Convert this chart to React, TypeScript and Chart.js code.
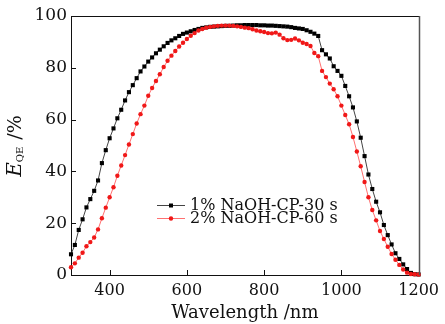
import React, { useEffect, useRef } from 'react';
import { Chart, registerables } from 'chart.js';

Chart.register(...registerables);

const wavelengths = [
  300, 310, 320, 330, 340, 350, 360, 370, 380, 390,
  400, 410, 420, 430, 440, 450, 460, 470, 480, 490,
  500, 510, 520, 530, 540, 550, 560, 570, 580, 590,
  600, 610, 620, 630, 640, 650, 660, 670, 680, 690,
  700, 710, 720, 730, 740, 750, 760, 770, 780, 790,
  800, 810, 820, 830, 840, 850, 860, 870, 880, 890,
  900, 910, 920, 930, 940, 950, 960, 970, 980, 990,
  1000, 1010, 1020, 1030, 1040, 1050, 1060, 1070, 1080, 1090,
  1100, 1110, 1120, 1130, 1140, 1150, 1160, 1170, 1180, 1190,
  1200,
];

const naoh30s = [
  8.0, 11.6, 17.4, 21.5, 26.1, 29.3, 32.5, 36.5, 43.2, 48.2,
  52.8, 56.6, 60.5, 63.8, 67.4, 70.6, 73.3, 76.0, 78.6, 80.5,
  82.4, 84.0, 85.6, 87.0, 88.3, 89.6, 90.6, 91.4, 92.3, 93.1,
  93.6, 94.1, 94.6, 95.0, 95.4, 95.6, 95.8, 95.9, 96.0, 96.1,
  96.2, 96.2, 96.3, 96.4, 96.4, 96.5, 96.5, 96.5, 96.5, 96.4,
  96.4, 96.3, 96.3, 96.2, 96.1, 96.0, 95.9, 95.7, 95.4, 95.2,
  95.0, 94.5, 93.9, 93.2, 92.3, 86.8, 85.2, 83.6, 80.6, 78.8,
  76.9, 73.0, 69.0, 64.7, 59.3, 53.0, 45.9, 38.8, 33.2, 28.3,
  24.2, 19.3, 15.4, 11.8, 8.4, 6.2, 4.1, 2.3, 0.8, 0.3,
  0.2,
];

const naoh60s = [
  3.0, 4.5, 6.7, 8.6, 11.1, 12.7, 14.5, 17.6, 21.9, 26.0,
  30.0, 33.9, 38.3, 42.3, 46.3, 50.4, 54.4, 58.5, 62.1, 65.4,
  69.2, 72.2, 74.9, 77.5, 80.3, 82.7, 84.7, 86.5, 88.2, 89.7,
  91.1, 92.4, 93.4, 94.4, 95.0, 95.5, 95.8, 96.0, 96.2, 96.3,
  96.3, 96.3, 96.2, 96.0, 95.8, 95.5, 95.3, 94.9, 94.4, 94.1,
  93.8, 93.4, 93.3, 93.6, 92.8, 91.4, 90.7, 90.8, 91.3, 90.6,
  89.7, 89.2, 88.4, 85.7, 84.5, 78.8, 76.4, 73.9, 71.7, 69.0,
  65.4, 61.8, 58.2, 53.3, 47.7, 42.0, 35.9, 30.0, 25.1, 21.1,
  17.0, 13.9, 10.9, 8.1, 5.9, 3.9, 2.1, 0.9, 0.4, 0.3,
  0.2,
];

const seriesLabels = ['1% NaOH-CP-30 s', '2% NaOH-CP-60 s'];
const xTickValues = [400, 600, 800, 1000, 1200];
const yTickValues = [0, 20, 40, 60, 80, 100];

const FONT = '"DejaVu Serif", serif';

const decorPlugin = {
  id: 'decor',
  afterDatasetsDraw(chart: any) {
    const { ctx, chartArea, scales } = chart;
    const { left, right, top, bottom } = chartArea;
    const x = scales.x;
    const y = scales.y;
    ctx.save();
    // frame top & right
    ctx.strokeStyle = '#111';
    ctx.lineWidth = 1;
    ctx.beginPath();
    ctx.moveTo(left, Math.round(top) + 0.5);
    ctx.lineTo(right + 1, Math.round(top) + 0.5);
    ctx.stroke();
    ctx.strokeStyle = '#555';
    ctx.lineWidth = 1.5;
    ctx.beginPath();
    ctx.moveTo(Math.round(right) + 0.5, top);
    ctx.lineTo(Math.round(right) + 0.5, bottom);
    ctx.stroke();
    // inward ticks
    ctx.strokeStyle = '#111';
    ctx.lineWidth = 1;
    ctx.beginPath();
    for (const v of xTickValues) {
      if (v >= 1200) continue;
      const px = Math.round(x.getPixelForValue(v)) + 0.5;
      ctx.moveTo(px, bottom);
      ctx.lineTo(px, bottom - 5);
    }
    for (const v of yTickValues) {
      if (v <= 0 || v >= 100) continue;
      const py = Math.round(y.getPixelForValue(v)) + 0.5;
      ctx.moveTo(left, py);
      ctx.lineTo(left + 5, py);
    }
    ctx.stroke();

    // legend
    const rows = [
      { ds: chart.data.datasets[1], y: 205 },
      { ds: chart.data.datasets[0], y: 218 },
    ];
    ctx.font = `16px ${FONT}`;
    ctx.textBaseline = 'middle';
    ctx.textAlign = 'left';
    for (const r of rows) {
      const ds = r.ds;
      ctx.strokeStyle = ds.borderColor;
      ctx.lineWidth = 1;
      ctx.beginPath();
      ctx.moveTo(157, r.y + 0.5);
      ctx.lineTo(185, r.y + 0.5);
      ctx.stroke();
      ctx.fillStyle = ds.pointBackgroundColor;
      if (ds.pointStyle === 'rect') {
        ctx.fillRect(169, r.y - 1.5, 4, 4);
      } else {
        ctx.beginPath();
        ctx.arc(171, r.y + 0.5, 2.2, 0, Math.PI * 2);
        ctx.fill();
      }
      ctx.fillStyle = '#111';
      ctx.fillText(ds.label, 190, r.y + 1);
    }

    // y-axis title: E_QE /%
    ctx.save();
    ctx.translate(21, 146);
    ctx.rotate(-Math.PI / 2);
    ctx.textBaseline = 'alphabetic';
    ctx.fillStyle = '#111';
    const fE = `italic 20px ${FONT}`;
    const fS = `10px ${FONT}`;
    const fR = `19px ${FONT}`;
    ctx.font = fE;
    const wE = ctx.measureText('E').width;
    ctx.font = fS;
    const wS = ctx.measureText('QE').width;
    ctx.font = fR;
    const wR = ctx.measureText(' /%').width;
    const total = wE + wS + 1 + wR;
    let cx = -total / 2;
    ctx.font = fE;
    ctx.fillText('E', cx, 0);
    cx += wE;
    ctx.font = fS;
    ctx.fillText('QE', cx, 1.5);
    cx += wS + 1;
    ctx.font = fR;
    ctx.fillText(' /%', cx, 0);
    ctx.restore();

    ctx.restore();
  },
};

export default function App() {
  const canvasRef = useRef<HTMLCanvasElement | null>(null);

  useEffect(() => {
    const canvas = canvasRef.current;
    if (!canvas) return;
    const chart = new Chart(canvas, {
      type: 'line',
      data: {
        datasets: [
          {
            label: seriesLabels[1],
            data: wavelengths.map((w, i) => ({ x: w, y: naoh60s[i] })),
            borderColor: '#ff7070',
            borderWidth: 1,
            pointStyle: 'circle',
            pointRadius: 2.2,
            pointBorderWidth: 0,
            pointBackgroundColor: '#f01818',
            order: 0,
            clip: false,
          },
          {
            label: seriesLabels[0],
            data: wavelengths.map((w, i) => ({ x: w, y: naoh30s[i] })),
            borderColor: '#444',
            borderWidth: 1,
            pointStyle: 'rect',
            pointRadius: 2.9,
            pointBorderWidth: 0,
            pointBackgroundColor: '#000',
            order: 1,
            clip: false,
          },
        ] as any,
      },
      options: {
        animation: false,
        responsive: false,
        maintainAspectRatio: false,
        devicePixelRatio: 1,
        layout: { padding: { top: 16, right: 22, left: 0, bottom: 0 } },
        plugins: {
          legend: { display: false },
          tooltip: { enabled: false },
        },
        elements: { line: { tension: 0 } },
        scales: {
          x: {
            type: 'linear',
            min: 300,
            max: 1200,
            afterBuildTicks: (scale: any) => {
              scale.ticks = xTickValues.map((v) => ({ value: v }));
            },
            afterFit: (scale: any) => {
              scale.height = 49;
            },
            grid: { display: false, drawTicks: false },
            border: { display: true, color: '#111', width: 1 },
            ticks: {
              padding: 6,
              color: '#111',
              font: { family: FONT, size: 16 },
              maxRotation: 0,
              autoSkip: false,
              callback: (v: any) => String(v),
            },
            title: {
              display: true,
              text: 'Wavelength /nm',
              color: '#111',
              font: { family: FONT, size: 18 },
              padding: { top: 0, bottom: 0 },
            },
          },
          y: {
            type: 'linear',
            min: 0,
            max: 100,
            afterBuildTicks: (scale: any) => {
              scale.ticks = yTickValues.map((v) => ({ value: v }));
            },
            afterFit: (scale: any) => {
              scale.width = 71;
            },
            grid: { display: false, drawTicks: false },
            border: { display: true, color: '#111', width: 1 },
            ticks: {
              padding: 4,
              color: '#111',
              font: { family: FONT, size: 17 },
              callback: (v: any) => String(v),
            },
          },
        },
      } as any,
      plugins: [decorPlugin],
    });
    return () => chart.destroy();
  }, []);

  return (
    <div style={{ position: 'fixed', left: 0, top: 0, width: 445, height: 324, background: '#fff' }}>
      <canvas ref={canvasRef} width={445} height={324} style={{ width: 445, height: 324, display: 'block' }} />
    </div>
  );
}
